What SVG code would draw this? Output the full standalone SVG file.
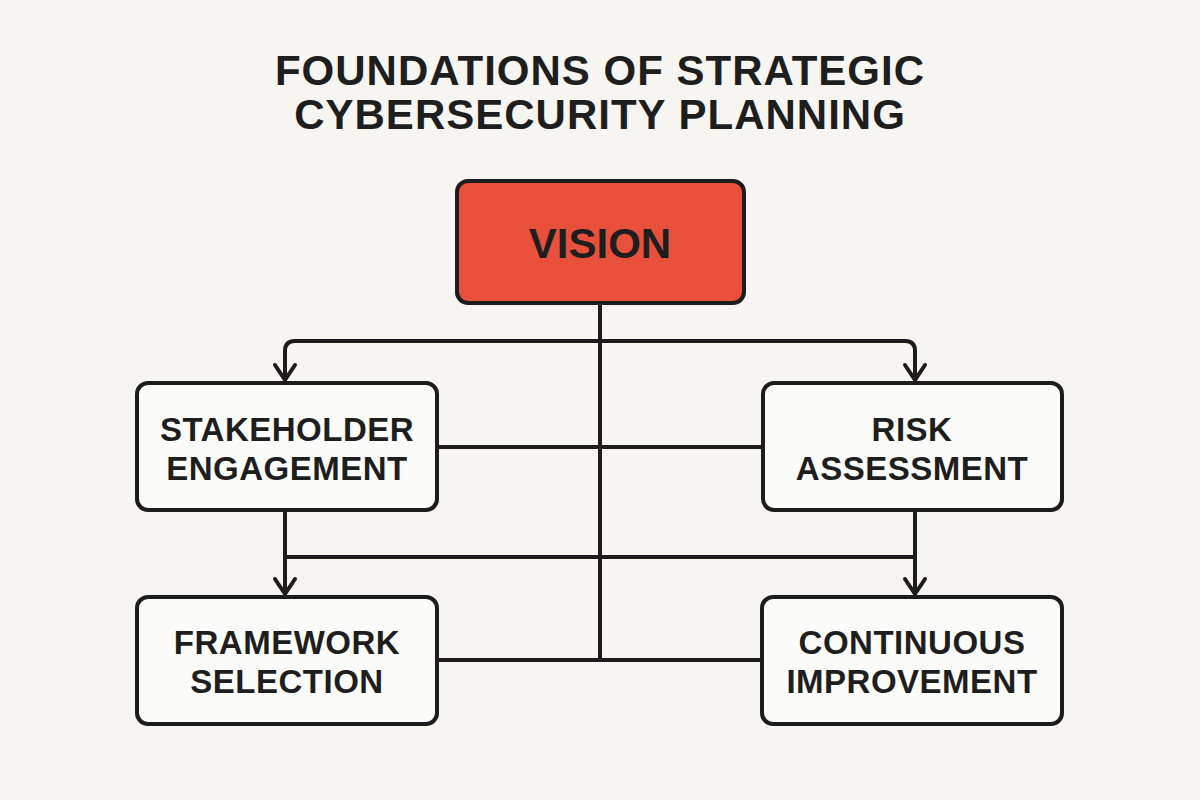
<svg xmlns="http://www.w3.org/2000/svg" width="1200" height="800" viewBox="0 0 1200 800">
  <defs>
    <marker id="arr" markerUnits="userSpaceOnUse" viewBox="-20 -14 24 28" markerWidth="24" markerHeight="28" refX="0" refY="0" orient="auto">
      <path d="M-15,-10 L0,0 L-15,10" fill="none" stroke="#1c1c1c" stroke-width="4" stroke-linecap="round" stroke-linejoin="round"/>
    </marker>
  </defs>
  <style>
    .bg { fill: #f6f5f2; }
    .box { fill: #fbfbf9; stroke: #1c1c1c; stroke-width: 4; }
    .vision { fill: #e8503c; stroke: #1c1c1c; stroke-width: 4; }
    .title { font-family: "Liberation Sans", Arial, sans-serif; font-weight: bold; font-size: 42px; fill: #1e1e1e; text-anchor: middle; letter-spacing: 1px; }
    .lbl { font-family: "Liberation Sans", Arial, sans-serif; font-weight: bold; font-size: 33px; fill: #1e1e1e; text-anchor: middle; letter-spacing: 0.5px; }
    .vlbl { font-family: "Liberation Sans", Arial, sans-serif; font-weight: bold; font-size: 42px; fill: #1e1e1e; text-anchor: middle; }
    .conn { fill: none; stroke: #1c1c1c; stroke-width: 4; stroke-linecap: round; stroke-linejoin: round; }
  </style>
  <rect class="bg" x="0" y="0" width="1200" height="800"/>

  <g id="title">
    <text class="title" x="600" y="85">FOUNDATIONS OF STRATEGIC</text>
    <text class="title" x="600" y="129">CYBERSECURITY PLANNING</text>
  </g>

  <g id="connectors">
    <path class="conn" d="M600,303 V660"/>
    <path class="conn" d="M600,341 H295 Q285,341 285,351 V380" marker-end="url(#arr)"/>
    <path class="conn" d="M600,341 H905 Q915,341 915,351 V380" marker-end="url(#arr)"/>
    <path class="conn" d="M438,447 H762"/>
    <path class="conn" d="M285,511 V594" marker-end="url(#arr)"/>
    <path class="conn" d="M915,511 V594" marker-end="url(#arr)"/>
    <path class="conn" d="M285,557 H915"/>
    <path class="conn" d="M438,660 H762"/>
  </g>

  <g id="vision">
    <rect class="vision" x="457" y="181" width="287" height="122" rx="11"/>
    <text class="vlbl" x="600" y="258">VISION</text>
  </g>

  <g id="stakeholder-engagement">
    <rect class="box" x="137" y="383" width="300" height="127" rx="11"/>
    <text class="lbl" x="287" y="441">STAKEHOLDER</text>
    <text class="lbl" x="287" y="480">ENGAGEMENT</text>
  </g>

  <g id="risk-assessment">
    <rect class="box" x="763" y="383" width="299" height="127" rx="11"/>
    <text class="lbl" x="912" y="441">RISK</text>
    <text class="lbl" x="912" y="480">ASSESSMENT</text>
  </g>

  <g id="framework-selection">
    <rect class="box" x="137" y="597" width="300" height="127" rx="11"/>
    <text class="lbl" x="287" y="654">FRAMEWORK</text>
    <text class="lbl" x="287" y="693">SELECTION</text>
  </g>

  <g id="continuous-improvement">
    <rect class="box" x="762" y="597" width="300" height="127" rx="11"/>
    <text class="lbl" x="912" y="654">CONTINUOUS</text>
    <text class="lbl" x="912" y="693">IMPROVEMENT</text>
  </g>
</svg>
